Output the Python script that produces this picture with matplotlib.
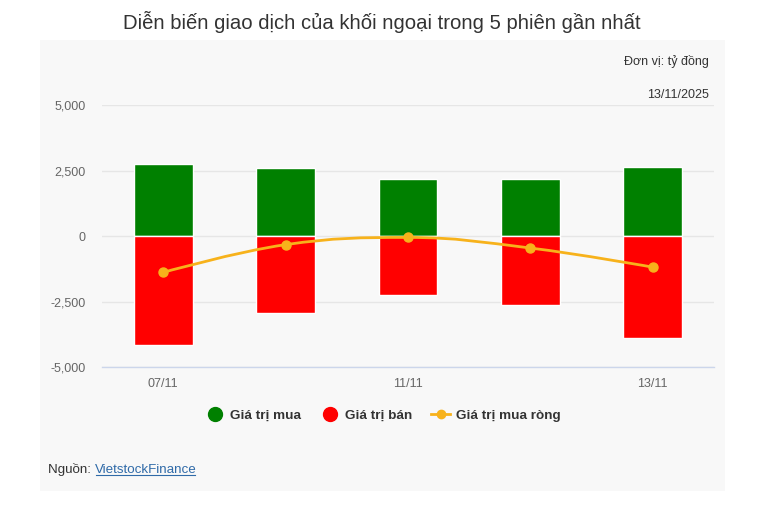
import matplotlib
matplotlib.use("Agg")
import matplotlib.pyplot as plt
from matplotlib.path import Path
from matplotlib.patches import PathPatch, Rectangle
from matplotlib.lines import Line2D

plt.rcParams['font.family'] = ['Liberation Sans', 'DejaVu Sans']

categories = ["07/11", "10/11", "11/11", "12/11", "13/11"]
tick_labels = ["07/11", "", "11/11", "", "13/11"]
buy_values = [2765, 2585, 2165, 2165, 2635]
sell_values = [-4145, -2940, -2250, -2645, -3895]
net_values = [-1390, -330, -55, -460, -1190]
y_ticks = [-5000, -2500, 0, 2500, 5000]
y_tick_labels = ["-5,000", "-2,500", "0", "2,500", "5,000"]

GREEN = "#008000"
RED = "#ff0000"
ORANGE = "#f7b21b"

W, H = 770, 511
fig = plt.figure(figsize=(W / 100, H / 100), dpi=100)
fig.patch.set_facecolor("white")

# grey panel
panel = Rectangle((40 / W, 1 - 491 / H), 685 / W, 451 / H,
                  transform=fig.transFigure, facecolor="#f8f8f8",
                  edgecolor="none", zorder=-10)
fig.add_artist(panel)

ax = fig.add_axes([102 / W, 1 - 367 / H, 612 / W, 262 / H])
ax.set_zorder(1)
ax.set_facecolor("none")

x = list(range(len(categories)))
ax.bar(x, buy_values, width=0.48, color=GREEN, edgecolor="white", linewidth=1, zorder=3)
ax.bar(x, sell_values, width=0.48, color=RED, edgecolor="white", linewidth=1, zorder=3)


def spline_path(xs, ys, smoothing=1.5):
    denom = smoothing + 1
    n = len(xs)
    left = [None] * n
    right = [None] * n
    for i in range(n):
        px, py = xs[i], ys[i]
        if 0 < i < n - 1:
            lx, ly = xs[i - 1], ys[i - 1]
            nx, ny = xs[i + 1], ys[i + 1]
            lcx = (smoothing * px + lx) / denom
            lcy = (smoothing * py + ly) / denom
            rcx = (smoothing * px + nx) / denom
            rcy = (smoothing * py + ny) / denom
            corr = ((rcy - lcy) * (rcx - px)) / (rcx - lcx) + py - rcy
            lcy += corr
            rcy += corr
            if lcy > ly and lcy > py:
                lcy = max(ly, py); rcy = 2 * py - lcy
            elif lcy < ly and lcy < py:
                lcy = min(ly, py); rcy = 2 * py - lcy
            if rcy > ny and rcy > py:
                rcy = max(ny, py); lcy = 2 * py - rcy
            elif rcy < ny and rcy < py:
                rcy = min(ny, py); lcy = 2 * py - rcy
            left[i] = (lcx, lcy)
            right[i] = (rcx, rcy)
        else:
            left[i] = (px, py)
            right[i] = (px, py)
    verts = [(xs[0], ys[0])]
    codes = [Path.MOVETO]
    for i in range(1, n):
        verts += [right[i - 1], left[i], (xs[i], ys[i])]
        codes += [Path.CURVE4] * 3
    return Path(verts, codes)


ax.add_patch(PathPatch(spline_path(x, net_values), facecolor="none",
                       edgecolor=ORANGE, linewidth=2, zorder=4))
ax.plot(x, net_values, linestyle="none", marker="o", markersize=6.5,
        color=ORANGE, zorder=5)

ax.set_xlim(-0.5, len(categories) - 0.5)
ax.set_ylim(-5000, 5000)
ax.set_yticks(y_ticks)
ax.set_yticklabels(y_tick_labels)
ax.set_xticks(x)
ax.set_xticklabels(tick_labels)
ax.tick_params(axis="both", length=0, labelsize=9, colors="#666666")
ax.tick_params(axis="y", pad=12)
ax.tick_params(axis="x", pad=8)
ax.grid(axis="y", color="#e6e6e6", linewidth=1, zorder=0)
ax.set_axisbelow(True)
for s in ["top", "right", "left"]:
    ax.spines[s].set_visible(False)
ax.spines["bottom"].set_color("#ccd6eb")
ax.spines["bottom"].set_linewidth(1)
ax.spines["bottom"].set_zorder(6)

# title
fig.text(382 / W, 1 - 22 / H, "Diễn biến giao dịch của khối ngoại trong 5 phiên gần nhất",
         ha="center", va="center", fontsize=14.6, color="#333333")
fig.text(709 / W, 1 - 61 / H, "Đơn vị: tỷ đồng", ha="right", va="center",
         fontsize=9, color="#333333")
fig.text(709 / W, 1 - 95 / H, "13/11/2025", ha="right", va="center",
         fontsize=9, color="#333333")

# legend
handles = [
    Line2D([], [], linestyle="none", marker="o", markersize=10, color=GREEN),
    Line2D([], [], linestyle="none", marker="o", markersize=10, color=RED),
    Line2D([], [], color=ORANGE, linewidth=2, marker="o", markersize=6),
]
labels = ["Giá trị mua", "Giá trị bán", "Giá trị mua ròng"]
leg = fig.legend(handles, labels, loc="center", bbox_to_anchor=(383 / W, 1 - 416 / H),
                 ncol=3, frameon=False, handlelength=1.4, handletextpad=0.45,
                 columnspacing=1.4, prop={"weight": "bold", "size": 9.7})
for t in leg.get_texts():
    t.set_color("#333333")

# source
t1 = fig.text(48 / W, 1 - 470 / H, "Nguồn: ", ha="left", va="center",
              fontsize=9.6, color="#333333")
fig.canvas.draw()
bb = t1.get_window_extent()
t2 = fig.text(bb.x1 / W, 1 - 470 / H, "VietstockFinance", ha="left", va="center",
              fontsize=9.6, color="#2f6aa8")
bb2 = t2.get_window_extent(renderer=fig.canvas.get_renderer())
fig.add_artist(Line2D([(bb2.x0 + 1) / W, (bb2.x1 - 2) / W], [(bb2.y0 + 1) / H, (bb2.y0 + 1) / H],
                      transform=fig.transFigure, color="#2f6aa8", linewidth=0.8))

fig.savefig("out.png", dpi=100, facecolor="white")
